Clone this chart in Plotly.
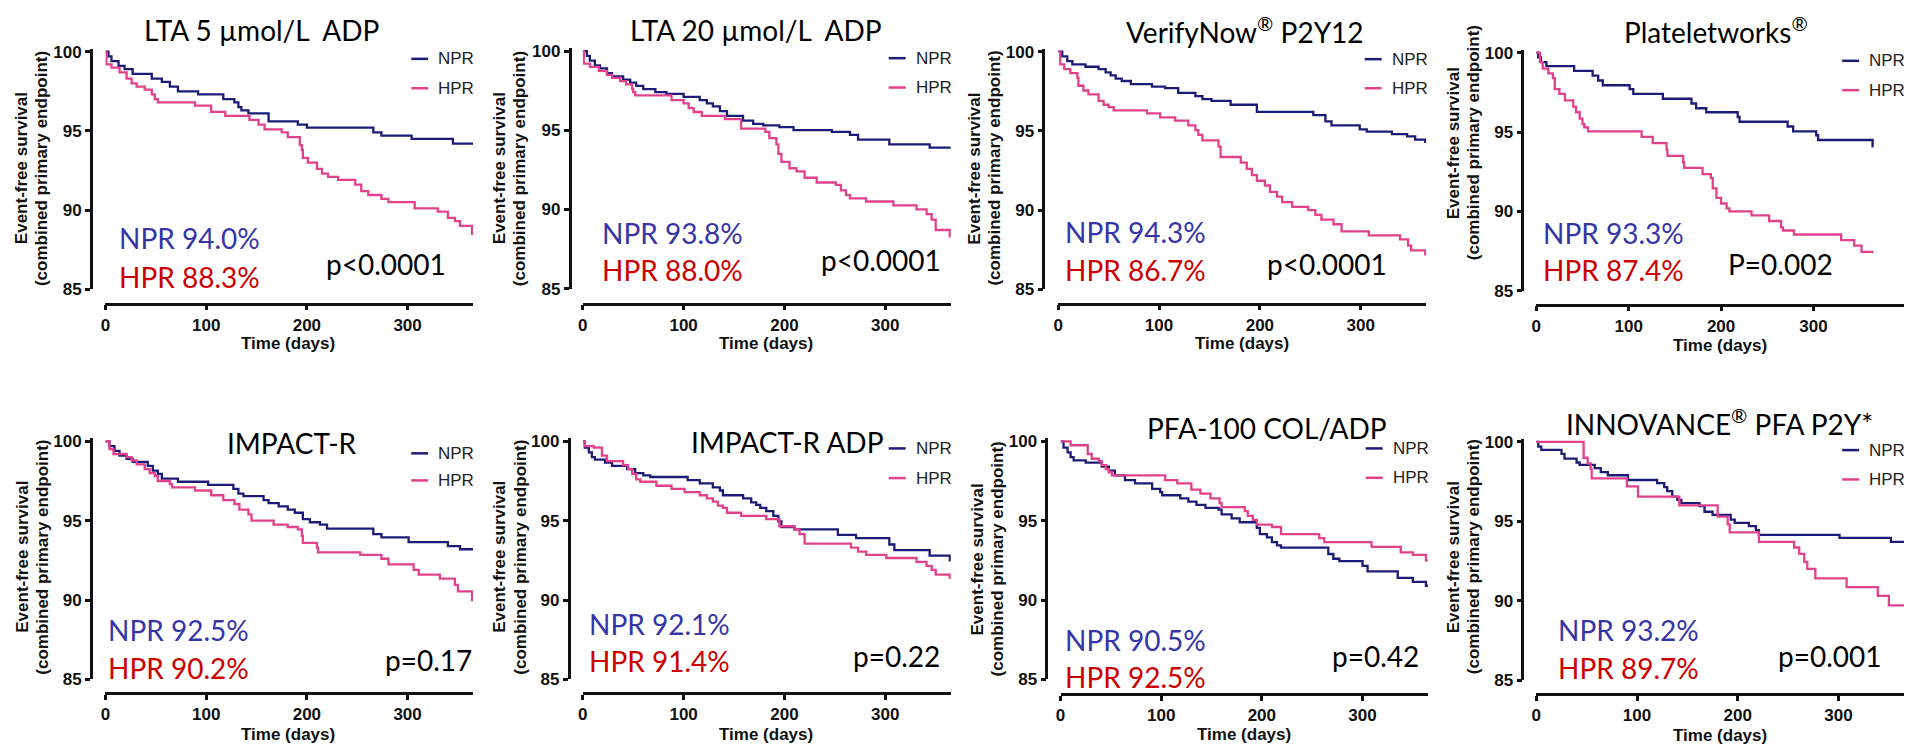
import plotly.graph_objects as go

# ---------------- data ----------------
TITLES = ["LTA 5 µmol/L\u00a0 ADP", "LTA 20 µmol/L\u00a0 ADP", "VerifyNow<sup>®</sup> P2Y12",
          "Plateletworks<sup>®</sup>", "IMPACT-R", "IMPACT-R ADP", "PFA-100 COL/ADP",
          "INNOVANCE<sup>®</sup> PFA P2Y*"]
NPR_LABELS = ["NPR 94.0%", "NPR 93.8%", "NPR 94.3%", "NPR 93.3%", "NPR 92.5%", "NPR 92.1%", "NPR 90.5%", "NPR 93.2%"]
HPR_LABELS = ["HPR 88.3%", "HPR 88.0%", "HPR 86.7%", "HPR 87.4%", "HPR 90.2%", "HPR 91.4%", "HPR 92.5%", "HPR 89.7%"]
P_LABELS = ["p&lt;0.0001", "p&lt;0.0001", "p&lt;0.0001", "P=0.002", "p=0.17", "p=0.22", "p=0.42", "p=0.001"]
X_TICKS = [0, 100, 200, 300]
Y_TICKS = [85, 90, 95, 100]

P1_NPR_T = [0, 3, 6, 13, 19, 27, 46, 56, 64, 72, 92, 117, 128, 132, 135, 142, 162, 191, 200, 266, 274, 304, 345, 365]
P1_NPR_S = [100, 99.7, 99.4, 99.1, 98.9, 98.6, 98.3, 98.1, 97.8, 97.5, 97.3, 97.0, 96.8, 96.5, 96.3, 96.1, 95.6, 95.4, 95.2, 94.9, 94.7, 94.5, 94.2, 94.2]
P1_HPR_T = [0, 1, 6, 14, 21, 26, 31, 39, 46, 49, 52, 89, 105, 119, 143, 152, 158, 175, 181, 193, 195, 196, 201, 210, 215, 221, 231, 248, 254, 261, 274, 281, 307, 330, 340, 347, 352, 364, 365]
P1_HPR_S = [100, 99.2, 99.0, 98.7, 98.3, 98.0, 97.8, 97.6, 97.3, 97.0, 96.8, 96.6, 96.2, 95.95, 95.7, 95.4, 95.1, 94.9, 94.6, 94.1, 93.8, 93.3, 93.0, 92.6, 92.3, 92.1, 91.9, 91.6, 91.2, 90.95, 90.7, 90.5, 90.1, 89.9, 89.5, 89.3, 89.0, 88.5, 88.5]

P2_NPR_T = [0, 4, 7, 12, 17, 24, 29, 40, 47, 53, 60, 72, 83, 100, 116, 123, 129, 136, 143, 159, 169, 179, 195, 209, 247, 265, 273, 304, 344, 365]
P2_NPR_S = [100, 99.7, 99.4, 99.1, 98.9, 98.6, 98.4, 98.2, 98.0, 97.8, 97.6, 97.4, 97.3, 97.1, 96.9, 96.7, 96.5, 96.2, 95.9, 95.6, 95.4, 95.3, 95.2, 95.0, 94.9, 94.7, 94.4, 94.1, 93.9, 93.9]
P2_HPR_T = [0, 1, 7, 16, 24, 29, 37, 43, 49, 50, 52, 88, 100, 105, 110, 118, 141, 157, 181, 185, 192, 194, 197, 205, 212, 220, 232, 251, 256, 261, 265, 281, 308, 331, 341, 346, 350, 364, 365]
P2_HPR_S = [100, 99.2, 99.0, 98.75, 98.5, 98.3, 98.1, 97.9, 97.6, 97.4, 97.2, 96.9, 96.7, 96.4, 96.15, 95.9, 95.7, 95.1, 94.9, 94.5, 94.1, 93.5, 93.0, 92.6, 92.4, 92.0, 91.7, 91.55, 91.2, 90.9, 90.7, 90.5, 90.25, 90.0, 89.7, 89.35, 88.7, 88.3, 88.3]

P3_NPR_T = [0, 4, 9, 14, 27, 40, 47, 52, 57, 63, 72, 93, 106, 119, 136, 143, 152, 171, 197, 253, 265, 271, 299, 306, 331, 346, 354, 364, 365]
P3_NPR_S = [100, 99.7, 99.4, 99.2, 99.05, 98.9, 98.7, 98.5, 98.3, 98.15, 97.95, 97.8, 97.7, 97.4, 97.2, 97.0, 96.9, 96.65, 96.2, 96.0, 95.6, 95.35, 95.1, 94.95, 94.8, 94.65, 94.45, 94.3, 94.3]
P3_HPR_T = [0, 2, 6, 12, 19, 20, 25, 30, 40, 45, 50, 55, 88, 101, 116, 129, 136, 139, 143, 159, 161, 181, 187, 192, 197, 205, 210, 217, 222, 232, 248, 255, 261, 273, 281, 308, 339, 347, 350, 364, 365]
P3_HPR_S = [100, 99.2, 98.9, 98.65, 98.35, 97.85, 97.55, 97.3, 96.9, 96.65, 96.5, 96.3, 96.1, 95.85, 95.65, 95.35, 95.05, 94.75, 94.4, 94.0, 93.35, 93.0, 92.6, 92.2, 91.85, 91.55, 91.15, 90.85, 90.5, 90.2, 90.0, 89.7, 89.4, 89.1, 88.65, 88.4, 88.15, 87.75, 87.45, 87.2, 87.2]

P4_NPR_T = [0, 2, 5, 11, 41, 61, 67, 72, 101, 105, 137, 168, 173, 184, 218, 220, 272, 278, 303, 305, 364, 365]
P4_NPR_S = [100, 99.7, 99.4, 99.15, 98.85, 98.55, 98.25, 97.95, 97.7, 97.4, 97.1, 96.8, 96.5, 96.25, 95.95, 95.65, 95.35, 95.05, 94.8, 94.5, 94.1, 94.1]
P4_HPR_T = [0, 4, 7, 13, 18, 20, 25, 31, 40, 43, 47, 50, 52, 56, 114, 126, 141, 142, 159, 160, 180, 189, 191, 195, 200, 206, 209, 233, 252, 265, 267, 279, 330, 344, 352, 365]
P4_HPR_S = [100, 99.4, 99.0, 98.7, 98.4, 97.7, 97.4, 97.0, 96.6, 96.25, 95.85, 95.5, 95.3, 95.05, 94.7, 94.3, 93.9, 93.5, 93.1, 92.75, 92.35, 92.1, 91.45, 90.85, 90.5, 90.2, 90.0, 89.75, 89.4, 89.0, 88.8, 88.55, 88.2, 87.85, 87.45, 87.45]

P5_NPR_T = [0, 4, 9, 14, 21, 27, 42, 47, 52, 56, 72, 102, 127, 132, 137, 157, 162, 172, 181, 188, 196, 203, 213, 220, 266, 274, 301, 340, 352, 365]
P5_NPR_S = [100, 99.7, 99.4, 99.1, 98.9, 98.7, 98.45, 98.15, 97.95, 97.65, 97.45, 97.25, 97.0, 96.7, 96.55, 96.3, 96.1, 95.9, 95.7, 95.5, 95.1, 94.9, 94.75, 94.5, 94.15, 93.95, 93.65, 93.4, 93.2, 93.2]
P5_HPR_T = [0, 4, 8, 21, 26, 31, 39, 44, 49, 52, 64, 66, 89, 105, 117, 128, 133, 142, 145, 167, 181, 191, 195, 196, 210, 211, 253, 274, 281, 306, 311, 332, 347, 350, 364, 365]
P5_HPR_S = [100, 99.5, 99.2, 99.0, 98.8, 98.55, 98.25, 98.0, 97.8, 97.5, 97.3, 97.1, 96.9, 96.6, 96.3, 96.05, 95.7, 95.4, 95.0, 94.75, 94.6, 94.45, 94.05, 93.6, 93.3, 93.0, 92.85, 92.6, 92.25, 91.9, 91.6, 91.35, 90.95, 90.55, 90.0, 90.0]

P6_NPR_T = [0, 2, 6, 9, 12, 22, 29, 44, 52, 60, 67, 104, 116, 129, 136, 139, 159, 167, 172, 176, 182, 189, 194, 197, 210, 253, 271, 304, 309, 344, 364, 365]
P6_NPR_S = [100, 99.6, 99.3, 99.0, 98.85, 98.65, 98.45, 98.25, 98.0, 97.85, 97.75, 97.55, 97.35, 97.1, 96.9, 96.6, 96.4, 96.15, 96.0, 95.8, 95.6, 95.3, 94.95, 94.6, 94.45, 94.1, 93.9, 93.5, 93.15, 92.8, 92.5, 92.5]
P6_HPR_T = [0, 2, 11, 19, 24, 40, 45, 49, 53, 57, 73, 88, 101, 116, 123, 129, 134, 139, 143, 157, 182, 195, 210, 215, 220, 266, 273, 281, 301, 331, 341, 346, 350, 364, 365]
P6_HPR_S = [100, 99.7, 99.6, 99.1, 98.75, 98.5, 98.25, 97.95, 97.6, 97.45, 97.2, 97.0, 96.8, 96.6, 96.4, 96.2, 95.95, 95.8, 95.5, 95.3, 95.1, 94.65, 94.45, 94.15, 93.55, 93.3, 93.05, 92.85, 92.65, 92.4, 92.15, 91.9, 91.6, 91.4, 91.4]

P7_NPR_T = [0, 3, 7, 10, 13, 25, 41, 48, 54, 64, 74, 91, 99, 101, 119, 127, 135, 144, 157, 160, 170, 178, 195, 198, 205, 210, 215, 219, 266, 271, 277, 300, 305, 335, 350, 363, 365]
P7_NPR_S = [100, 99.6, 99.3, 99.0, 98.8, 98.65, 98.4, 98.15, 97.85, 97.55, 97.35, 97.0, 96.8, 96.6, 96.4, 96.2, 96.0, 95.8, 95.7, 95.4, 95.15, 94.9, 94.55, 94.15, 93.95, 93.65, 93.45, 93.3, 92.9, 92.6, 92.45, 92.15, 91.8, 91.4, 91.15, 90.9, 90.9]
P7_HPR_T = [0, 10, 27, 31, 38, 41, 45, 48, 51, 104, 116, 130, 139, 149, 158, 160, 183, 186, 191, 195, 210, 219, 257, 262, 309, 338, 350, 363, 365]
P7_HPR_S = [100, 99.75, 99.2, 98.9, 98.75, 98.5, 98.25, 98.05, 97.85, 97.55, 97.35, 96.95, 96.7, 96.4, 96.1, 95.85, 95.6, 95.3, 95.05, 94.75, 94.6, 94.15, 93.9, 93.65, 93.35, 93.0, 92.85, 92.5, 92.5]

P8_NPR_T = [0, 2, 5, 25, 28, 40, 43, 58, 64, 71, 91, 120, 127, 130, 135, 140, 144, 162, 167, 175, 193, 197, 211, 218, 221, 301, 352, 365]
P8_NPR_S = [100, 99.7, 99.5, 99.25, 98.95, 98.7, 98.55, 98.35, 98.1, 97.9, 97.6, 97.4, 97.15, 96.9, 96.55, 96.35, 96.15, 95.95, 95.6, 95.4, 95.1, 94.9, 94.7, 94.45, 94.15, 93.95, 93.7, 93.7]
P8_HPR_T = [0, 47, 51, 54, 55, 90, 101, 142, 180, 190, 192, 221, 256, 261, 266, 269, 277, 308, 339, 350, 365]
P8_HPR_S = [100, 99.0, 98.65, 98.3, 97.7, 97.2, 96.55, 96.0, 95.3, 94.8, 94.3, 93.7, 93.35, 92.95, 92.45, 92.0, 91.4, 90.85, 90.3, 89.7, 89.7]

NPR_SERIES = [(P1_NPR_T, P1_NPR_S), (P2_NPR_T, P2_NPR_S), (P3_NPR_T, P3_NPR_S), (P4_NPR_T, P4_NPR_S),
              (P5_NPR_T, P5_NPR_S), (P6_NPR_T, P6_NPR_S), (P7_NPR_T, P7_NPR_S), (P8_NPR_T, P8_NPR_S)]
HPR_SERIES = [(P1_HPR_T, P1_HPR_S), (P2_HPR_T, P2_HPR_S), (P3_HPR_T, P3_HPR_S), (P4_HPR_T, P4_HPR_S),
              (P5_HPR_T, P5_HPR_S), (P6_HPR_T, P6_HPR_S), (P7_HPR_T, P7_HPR_S), (P8_HPR_T, P8_HPR_S)]
X_MAX = [365, 365, 365, 398, 365, 365, 365, 365]

# ---------------- layout geometry (pixels in the 1907x756 canvas) ----------------
W, H = 1907, 756
# yaxis line x, x0, x end, y(100), y(85), x-axis line y
GEOM = [
    (86, 100.7, 469.3, 46.7, 289.3, 304),
    (566, 579.3, 948.3, 46.0, 288.7, 304),
    (1041, 1056, 1425, 46.7, 289.3, 304),
    (1521.3, 1535.3, 1904, 47.7, 291, 305),
    (86, 100.7, 469.3, 444.7, 688, 702),
    (565, 579.3, 948.3, 444.7, 688, 702),
    (1044, 1058.3, 1426.7, 444.7, 688, 703),
    (1521.3, 1535.3, 1904, 445.3, 688.7, 703),
]
TITLE_POS = [(257, 25), (753, 25), (1243, 25), (1715, 25), (288, 446), (784, 445), (1265, 431), (1719, 425)]
NPR_POS = [(112.7, 236.7), (596.7, 231.7), (1060.7, 231), (1540.3, 231.7), (101.7, 637.3), (584, 631.3), (1060.7, 647.3), (1554.7, 637.3)]
HPR_POS = [(112.7, 276.7), (596.7, 269.3), (1060.7, 269.3), (1540.3, 270), (101.7, 676.3), (584, 668.7), (1060.7, 685.3), (1554.7, 676.3)]
P_POS = [(444.3, 263.3), (940, 260), (1387.7, 263.3), (1835.3, 263.3), (470, 668), (939.3, 664), (1419.3, 664), (1883.7, 664)]
LEG_POS = [(407.3, 54, 84), (886, 53.3, 83.3), (1363.3, 54.3, 84), (1842, 56, 86),
           (407.3, 457, 484.7), (886, 452, 482.3), (1364.3, 452, 482), (1842, 453.7, 483.7)]
YT_POS = [(16.7, 36.7, 166), (496, 516, 166), (971.7, 991.7, 166), (1452, 1472, 140),
          (16.7, 36.7, 563), (495, 516, 563), (975, 995, 565), (1452, 1472, 563)]
XT_POS = [(284, 345), (763, 345), (1240, 345), (1719.5, 346.7), (284, 744), (763, 744), (1242.7, 744.7), (1719.7, 745.3)]

NPR_LINE = "#1c1c78"
HPR_LINE = "#e2418c"
NPR_TEXT = "#3535a8"
HPR_TEXT = "#cc0000"
AXIS_C = "#111111"
ARIAL = "Liberation Sans, Arial, sans-serif"
CALIBRI = "Lato, Carlito, Calibri, sans-serif"


def fx(x):
    return x / W


def fy(y):
    return 1 - y / H


fig = go.Figure()
layout = dict(width=W, height=H, margin=dict(l=0, r=0, t=0, b=0),
              paper_bgcolor="white", plot_bgcolor="white", showlegend=False)
annotations = []
shapes = []

YTOP = 100.2
for i in range(8):
    k = i + 1
    ylx, x0, xe, y100, y85, xly = GEOM[i]
    per_unit = (y85 - y100) / 15.0
    ytop_px = y100 - (YTOP - 100) * per_unit
    xs = "" if k == 1 else str(k)
    tickfont = dict(family=ARIAL, size=17, color=AXIS_C, weight="bold")
    xaxis = dict(domain=[fx(x0), fx(xe)], range=[0, X_MAX[i]], anchor="free", position=fy(xly),
                 showline=True, linewidth=2.5, linecolor=AXIS_C, ticks="outside", ticklen=5,
                 tickwidth=2.5, tickcolor=AXIS_C, tickvals=X_TICKS, tickfont=tickfont,
                 showgrid=False, zeroline=False)
    yaxis = dict(domain=[fy(y85), fy(ytop_px)], range=[85, YTOP], anchor="free", position=fx(ylx),
                 showline=True, linewidth=2.5, linecolor=AXIS_C, ticks="outside", ticklen=5,
                 tickwidth=2.5, tickcolor=AXIS_C, tickvals=Y_TICKS, tickfont=tickfont,
                 showgrid=False, zeroline=False)
    layout["xaxis" + xs] = xaxis
    layout["yaxis" + xs] = yaxis

    for (t, s), col, name in ((NPR_SERIES[i], NPR_LINE, "NPR"), (HPR_SERIES[i], HPR_LINE, "HPR")):
        fig.add_trace(go.Scatter(x=t, y=s, mode="lines", line=dict(color=col, width=2.3, shape="hv"),
                                 name=name, xaxis="x" + xs, yaxis="y" + xs, hoverinfo="skip"))

    # title
    tx, ty = TITLE_POS[i]
    annotations.append(dict(text=TITLES[i], x=fx(tx), y=fy(ty), xref="paper", yref="paper",
                            xanchor="center", yanchor="middle", showarrow=False,
                            font=dict(family=CALIBRI, size=28, color="#000")))
    # group results
    nx, ny = NPR_POS[i]
    annotations.append(dict(text=NPR_LABELS[i], x=fx(nx), y=fy(ny), xref="paper", yref="paper",
                            xanchor="left", yanchor="middle", showarrow=False,
                            font=dict(family=CALIBRI, size=28, color=NPR_TEXT)))
    hx, hy = HPR_POS[i]
    annotations.append(dict(text=HPR_LABELS[i], x=fx(hx), y=fy(hy), xref="paper", yref="paper",
                            xanchor="left", yanchor="middle", showarrow=False,
                            font=dict(family=CALIBRI, size=28, color=HPR_TEXT)))
    px_, py_ = P_POS[i]
    annotations.append(dict(text=P_LABELS[i], x=fx(px_), y=fy(py_), xref="paper", yref="paper",
                            xanchor="right", yanchor="middle", showarrow=False,
                            font=dict(family=CALIBRI, size=28, color="#000")))
    # legend
    lx, ly1, ly2 = LEG_POS[i]
    for yy, col, lab in ((ly1, NPR_LINE, "NPR"), (ly2, HPR_LINE, "HPR")):
        shapes.append(dict(type="line", xref="paper", yref="paper", x0=fx(lx), x1=fx(lx + 17),
                           y0=fy(yy), y1=fy(yy), line=dict(color=col, width=2.5)))
        annotations.append(dict(text=lab, x=fx(lx + 25), y=fy(yy), xref="paper", yref="paper",
                                xanchor="left", yanchor="middle", showarrow=False,
                                font=dict(family=ARIAL, size=17, color="#222")))
    # y-axis title (two lines)
    a1, a2, yc = YT_POS[i]
    annotations.append(dict(text="Event-free survival", x=fx(a1), y=fy(yc), xref="paper", yref="paper",
                            xanchor="center", yanchor="middle", textangle=-90, showarrow=False,
                            font=dict(family=ARIAL, size=17, color=AXIS_C, weight="bold")))
    annotations.append(dict(text="(combined primary endpoint)", x=fx(a2), y=fy(yc), xref="paper",
                            yref="paper", xanchor="center", yanchor="middle", textangle=-90,
                            showarrow=False,
                            font=dict(family=ARIAL, size=17, color=AXIS_C, weight="bold")))
    # x-axis title
    xx, xy = XT_POS[i]
    annotations.append(dict(text="Time (days)", x=fx(xx), y=fy(xy), xref="paper", yref="paper",
                            xanchor="center", yanchor="middle", showarrow=False,
                            font=dict(family=ARIAL, size=17, color=AXIS_C, weight="bold")))

layout["annotations"] = annotations
layout["shapes"] = shapes
fig.update_layout(**layout)
fig.write_html("out.html")
